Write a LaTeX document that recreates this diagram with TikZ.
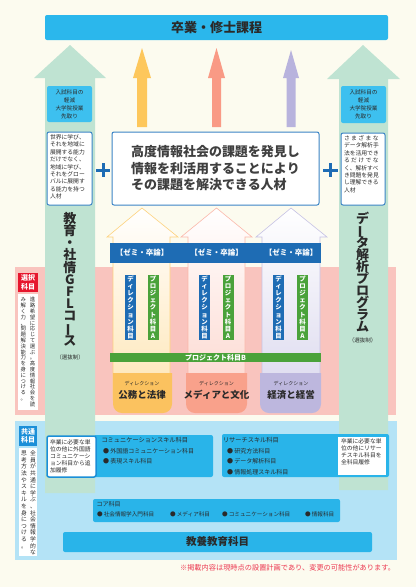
\documentclass[tikz,border=0pt]{standalone}
\usepackage{fontspec}
\setmainfont{Noto Sans CJK JP}
\usepackage{graphicx}
\usetikzlibrary{fit}
\definecolor{cream}{HTML}{FCFBEF}
\definecolor{cyanbar}{HTML}{2BB7EC}
\definecolor{mint}{HTML}{BFE3D2}
\definecolor{skyb}{HTML}{3DC0EF}
\definecolor{navy}{HTML}{1E6CB4}
\definecolor{pgreen}{HTML}{4AA23A}
\definecolor{pinkband}{HTML}{F9C4BE}
\definecolor{ayel}{HTML}{FDC75C}
\definecolor{asal}{HTML}{F99A85}
\definecolor{alav}{HTML}{B8B3DD}
\definecolor{lblue}{HTML}{B4E3F6}
\definecolor{boxcyan}{HTML}{29B4E9}
\definecolor{selred}{HTML}{E6162D}
\definecolor{combl}{HTML}{1B8FD8}
\definecolor{notered}{HTML}{EC3A52}
\definecolor{dirY}{HTML}{FBC25F}
\definecolor{dirS}{HTML}{F9A18B}
\definecolor{dirL}{HTML}{BDB7DE}
\definecolor{txt}{HTML}{2A2A2A}
\definecolor{bordb}{HTML}{3B84C6}
\newcommand\fs[2]{\fontsize{#1}{#2}\selectfont}
\newdimen\vch
\newcommand\vstack[2]{\vtop{\offinterlineskip\vch=#1\relax\vsaux#2\relax}}
\def\vsaux#1{\ifx\relax#1\else\hbox to\vch{\vrule width0pt height.85\vch depth.15\vch\hss\smash{#1}\hss}\expandafter\vsaux\fi}
\newcommand\vbar{\rotatebox[origin=c]{90}{ー}}
\newcommand\spr[2]{\hbox to #1{\sprB#2\relax}}
\def\sprB#1{#1\sprC}
\def\sprC#1{\ifx\relax#1\else\hfil#1\expandafter\sprC\fi}
\begin{document}
\begin{tikzpicture}[x=1pt,y=-1pt,
  every node/.style={inner sep=0pt, outer sep=0pt, text=txt},
  barbox/.style={fill=#1, rounded corners=2pt},
  wbox/.style={fill=white, draw=#1, line width=1pt, rounded corners=2pt},
  vlab/.style={fill=#1, text=white, minimum width=11pt, inner ysep=1pt, font=\fs{6.4}{7}\bfseries},
  dirbox/.style={fill=#1, rounded corners=9pt},
  smalltxt/.style={font=\fs{5.8}{7.4}, align=left},
]
\useasboundingbox (0,0) rectangle (416,587);
\fill[cream] (0,0) rectangle (416,587);
% bands
\fill[pinkband] (15,267) rectangle (396,415);
\fill[lblue] (15,421) rectangle (397,560);
% green arrows
\fill[mint] (70,45) -- (106,78) -- (95,78) -- (95,493) -- (45,493) -- (45,78) -- (34,78) -- cycle;
\fill[mint] (363,45) -- (400,79) -- (388,79) -- (388,490) -- (339,490) -- (339,79) -- (327,79) -- cycle;
% top bar
\node[barbox=cyanbar, fit={(45,15)(388,40)}] (top) {};
\node[font=\fs{13}{15}\bfseries] (toptxt) at (top.center) {卒業・修士課程};
% coloured arrows
\fill[ayel] (142,48) -- (151,78) -- (147,78) -- (147,127) -- (137,127) -- (137,78) -- (133,78) -- cycle;
\fill[asal] (216.5,48) -- (225,78) -- (221,78) -- (221,127) -- (212,127) -- (212,78) -- (208,78) -- cycle;
\fill[alav] (291,50) -- (299,78) -- (295.5,78) -- (295.5,127) -- (286.5,127) -- (286.5,78) -- (283,78) -- cycle;
% entrance boxes
\node[barbox=skyb, fit={(47,86)(92,122)}] (entL) {};
\node[font=\fs{5.6}{8}, align=center] (entLt) at (entL.center) {入試科目の\\軽減\\大学院授業\\先取り};
\node[barbox=skyb, fit={(341,86)(386,123)}] (entR) {};
\node[font=\fs{5.6}{8}, align=center] (entRt) at (entR.center) {入試科目の\\軽減\\大学院授業\\先取り};
% white boxes
\node[wbox=bordb, fit={(47,132)(92,205)}] (wL) {};
\node[smalltxt, anchor=north west] (wLt) at (50,134.5) {世界に学び、\\それを地域に\\展開する能力\\だけでなく、\\地域に学び、\\それをグロー\\バルに展開す\\る能力を持つ\\人材};
\node[wbox=bordb, fit={(341,133)(385,205)}] (wR) {};
\node[smalltxt, anchor=north west] (wRt) at (344,135.5) {\spr{34.8pt}{さまざまな}\\データ解析手\\法を活用でき\\\spr{34.8pt}{るだけでな}\\く、解析すべ\\き問題を発見\\し理解できる\\人材};
% centre box
\node[wbox=bordb, fit={(112,132)(319,205)}] (goal) {};
\node[font=\fs{13}{16.5}\bfseries, align=left, text=txt!90] (goalt) at (goal.center) {高度情報社会の課題を発見し\\情報を利活用することにより\\その課題を解決できる人材};
% plus signs
\draw[navy, line width=3pt] (96,170) -- (110,170) (103,163) -- (103,177);
\draw[navy, line width=3pt] (323,170) -- (338,170) (330.5,163) -- (330.5,177);
% pale column arrows
\shadedraw[top color=white, bottom color=ayel!45, draw=ayel!80, line width=.6pt] (142,208) -- (178,237) -- (170,237) -- (170,400) -- (113,400) -- (113,237) -- (107,237) -- cycle;
\shadedraw[top color=white, bottom color=asal!40, draw=asal!70, line width=.6pt] (216.5,208) -- (252,237) -- (245,237) -- (245,400) -- (188,400) -- (188,237) -- (181,237) -- cycle;
\shadedraw[top color=white, bottom color=alav!50, draw=alav!80, line width=.6pt] (291,208) -- (327,237) -- (320,237) -- (320,400) -- (262,400) -- (262,237) -- (256,237) -- cycle;
% seminar bar
\node[fill=navy, fit={(110,243)(321,263)}] (zemi) {};
\node[text=white, font=\fs{7.5}{8}\bfseries] (z1) at (142,253) {【ゼミ・卒論】};
\node[text=white, font=\fs{7.5}{8}\bfseries] (z2) at (216.5,253) {【ゼミ・卒論】};
\node[text=white, font=\fs{7.5}{8}\bfseries] (z3) at (291,253) {【ゼミ・卒論】};
% vertical labels
\node[vlab=navy] (d1) at (130.5,307.5) {\vstack{7.1pt}{ディレクション科目}};
\node[vlab=pgreen] (p1) at (153,307.5) {\vstack{7.1pt}{プロジェクト科目A}};
\node[vlab=navy] (d2) at (204.5,307.5) {\vstack{7.1pt}{ディレクション科目}};
\node[vlab=pgreen] (p2) at (228,307.5) {\vstack{7.1pt}{プロジェクト科目A}};
\node[vlab=navy] (d3) at (278.5,307.5) {\vstack{7.1pt}{ディレクション科目}};
\node[vlab=pgreen] (p3) at (302.5,307.5) {\vstack{7.1pt}{プロジェクト科目A}};
% project B bar
\node[fill=pgreen, fit={(110,353)(321,362)}] (pB) {};
\node[text=white, font=\fs{7}{8}\bfseries] (pBt) at (pB.center) {プロジェクト科目B};
% direction boxes
\fill[dirbox=dirY] (113,373) -- (113,413) -- (172,413) -- (172,373);
\fill[dirbox=dirS] (186,373) -- (186,413) -- (247,413) -- (247,373);
\fill[dirbox=dirL] (260,373) -- (260,413) -- (321,413) -- (321,373);
\node[font=\fs{5}{6}] (dl1) at (142,384) {ディレクション};
\node[font=\fs{9.5}{10}\bfseries] (dn1) at (142,394.5) {公務と法律};
\node[font=\fs{5}{6}] (dl2) at (216.5,384) {ディレクション};
\node[font=\fs{9.5}{10}\bfseries] (dn2) at (216.5,394.5) {メディアと文化};
\node[font=\fs{5}{6}] (dl3) at (291,384) {ディレクション};
\node[font=\fs{9.5}{10}\bfseries] (dn3) at (291,394.5) {経済と経営};
% vertical titles
\node[font=\fs{13}{13}\bfseries, anchor=north] (gfl) at (70,213) {\vstack{12.2pt}{教育・社情GFLコ{\vbar}ス}};
\node[font=\fs{5.5}{6}] (gflsel) at (70,357) {（選抜制）};
\node[font=\fs{13}{13}\bfseries, anchor=north] (dap) at (362.5,213) {\vstack{12pt}{デ{\vbar}タ解析プログラム}};
\node[font=\fs{5.5}{6}] (dapsel) at (362.5,340) {（選抜制）};
% elective strip
\node[fill=selred, fit={(18,273)(38,292)}] (sel) {};
\node[text=white, font=\fs{7}{8.5}\bfseries, align=center] (selt) at (sel.center) {選択\\科目};
\node[fill=white, fit={(18,294)(38,410)}] (selbox) {};
\node[font=\fs{5.4}{6}, anchor=north] (seltxt) at (28,297) {\vstack{5.8pt}{み解く力、問題解決能力を身につける。}\hspace{3.6pt}\vstack{5.8pt}{進路希望に応じて選ぶ。高度情報社会を読}};
% common strip
\node[fill=combl, fit={(19,426)(37,446)}] (com) {};
\node[text=white, font=\fs{7}{8.5}\bfseries, align=center] (comt) at (com.center) {共通\\科目};
\node[fill=white, fit={(19,448)(37,556)}] (combox) {};
\node[font=\fs{5.8}{6}, anchor=north] (comtxt) at (28.5,450) {\vstack{6.6pt}{思考方法やスキルを身につける。}\hspace{2.4pt}\vstack{6.6pt}{全員が共通に学ぶ、社会情報学的な}};
% skill boxes
\node[barbox=boxcyan, fit={(94,435)(213,477)}] (comm) {};
\node[wbox=combl, line width=1.5pt, fit={(47,436)(96,477)}] (commw) {};
\node[smalltxt, font=\fs{5.8}{7}, anchor=north west] (commwt) at (50,439.5) {卒業に必要な単\\位の他に外国語\\コミュニケーシ\\ョン科目から追\\加履修};
\node[font=\fs{6.2}{7}, anchor=west] (commh) at (101.5,440.5) {コミュニケーションスキル科目};
\node[font=\fs{6}{7}, anchor=west] (commi1) at (103,451) {● 外国語コミュニケーション科目};
\node[font=\fs{6}{7}, anchor=west] (commi2) at (103,461.5) {● 表現スキル科目};
\node[barbox=boxcyan, fit={(222,434)(389,477)}] (res) {};
\node[fill=white, fit={(338,437)(386,475)}] (resw) {};
\node[smalltxt, font=\fs{5.8}{7}, anchor=north west] (reswt) at (341,438.5) {卒業に必要な単\\位の他にリサー\\チスキル科目を\\全科目履修};
\node[font=\fs{6.2}{7}, anchor=west] (resh) at (223,440.5) {リサーチスキル科目};
\node[font=\fs{6}{7}, anchor=west] (resi1) at (227,451) {● 研究方法科目};
\node[font=\fs{6}{7}, anchor=west] (resi2) at (227,461.5) {● データ解析科目};
\node[font=\fs{6}{7}, anchor=west] (resi3) at (227,472) {● 情報処理スキル科目};
% core
\node[barbox=boxcyan, fit={(93,499)(340,522)}] (core) {};
\node[font=\fs{6}{7}, anchor=west] (coreh) at (96.5,504.5) {コア科目};
\node[font=\fs{5.6}{7}, anchor=west] (core1) at (97,514.5) {● 社会情報学入門科目};
\node[font=\fs{5.6}{7}, anchor=west] (core2) at (170,514.5) {● メディア科目};
\node[font=\fs{5.6}{7}, anchor=west] (core3) at (222,514.5) {● コミュニケーション科目};
\node[font=\fs{5.6}{7}, anchor=west] (core4) at (305,514.5) {● 情報科目};
% liberal arts
\node[barbox=boxcyan, fit={(63,532)(372,552)}] (lib) {};
\node[font=\fs{10.5}{12}\bfseries] (libt) at (lib.center) {教養教育科目};
% note
\node[text=notered, font=\fs{7.2}{8}, anchor=east] (note) at (395,567.5) {※掲載内容は現時点の設置計画であり、変更の可能性があります。};
\end{tikzpicture}
\end{document}
